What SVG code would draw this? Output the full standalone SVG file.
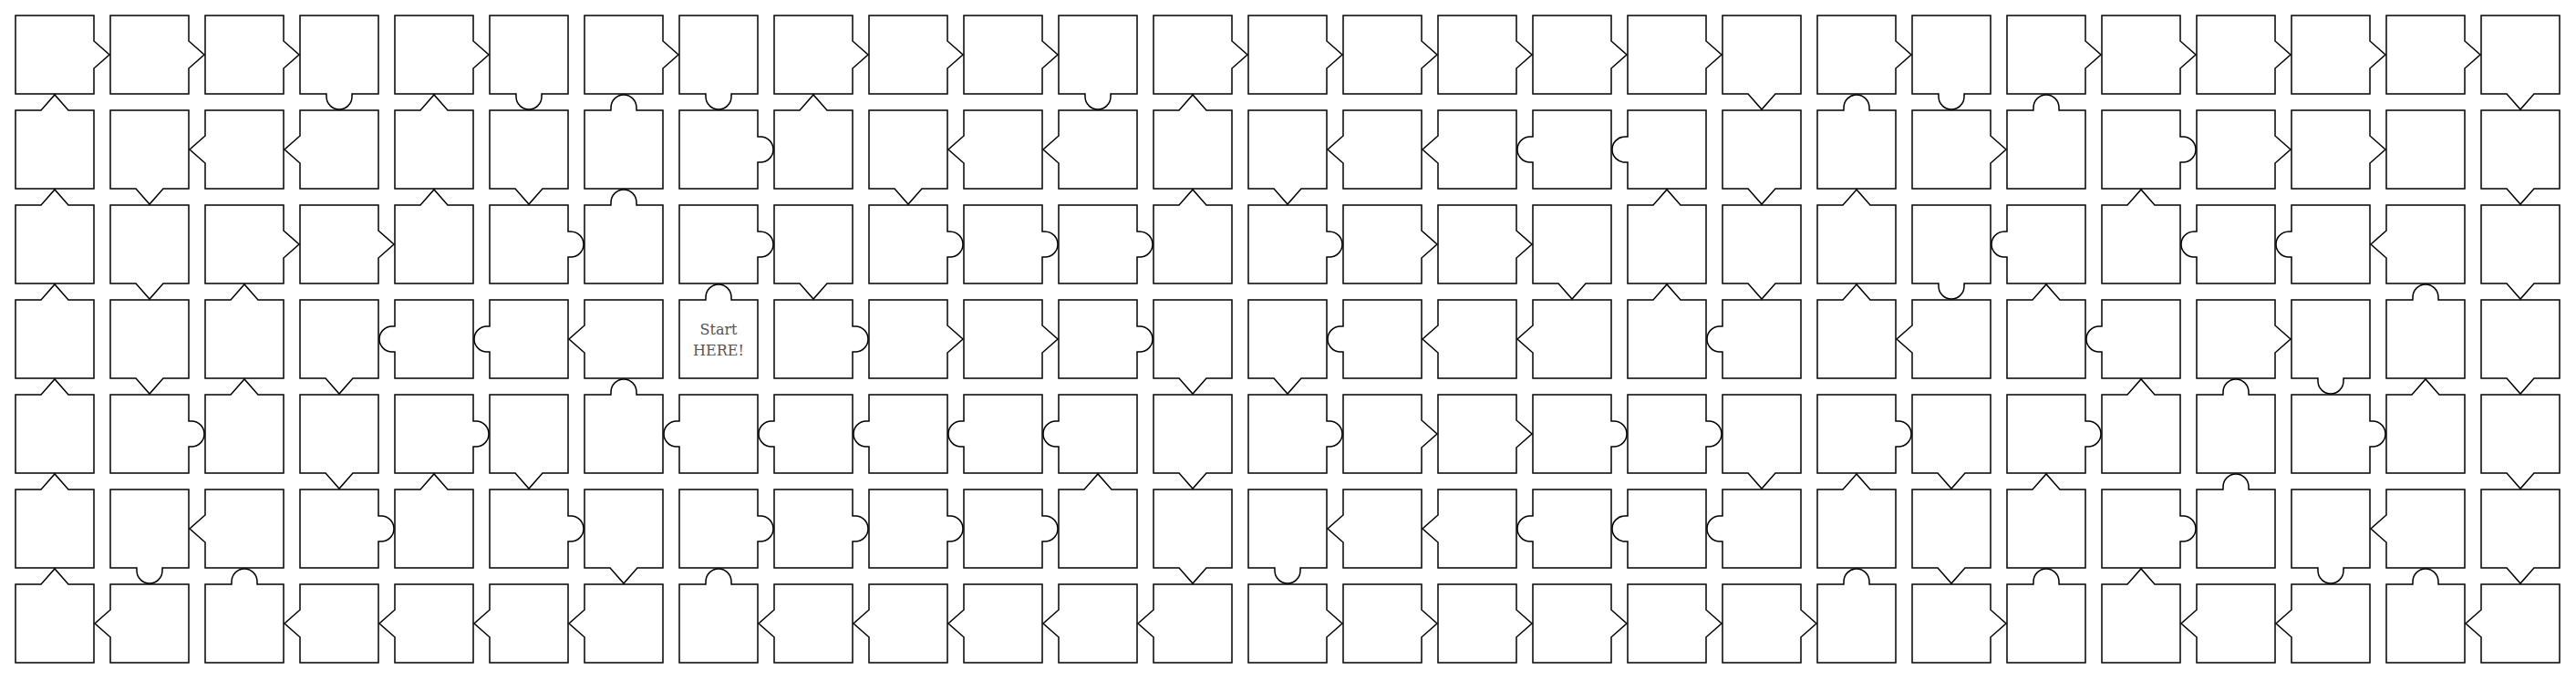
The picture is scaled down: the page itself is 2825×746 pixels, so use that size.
<svg xmlns="http://www.w3.org/2000/svg" xmlns:xlink="http://www.w3.org/1999/xlink" width="2825" height="746" viewBox="0 0 2825 746">
<style>
.t{fill:#fff;stroke:#000;stroke-width:1.5;stroke-linejoin:miter}
.lbl{font-family:"DejaVu Serif","Liberation Serif",serif;font-size:16px;fill:#555;text-anchor:middle}
</style>
<defs>
<path id="N" class="t" d="M0,0H86V86H0Z"/>
<path id="Ua" class="t" d="M0,0H28L43,-17L58,0H86V86H0Z"/>
<path id="Uc" class="t" d="M0,0H29V-3A14,14 0 0 1 57,-3V0H86V86H0Z"/>
<path id="Ra" class="t" d="M0,0H86V28L103,43L86,58V86H0Z"/>
<path id="Rc" class="t" d="M0,0H86V29H89A14,14 0 0 1 89,57H86V86H0Z"/>
<path id="Da" class="t" d="M0,0H86V86H58L43,103L28,86H0Z"/>
<path id="Dc" class="t" d="M0,0H86V86H57V89A14,14 0 0 1 29,89V86H0Z"/>
<path id="La" class="t" d="M0,0H86V86H0V58L-17,43L0,28Z"/>
<path id="Lc" class="t" d="M0,0H86V86H0V57H-3A14,14 0 0 1 -3,29H0Z"/>
</defs>
<rect width="2825" height="746" fill="#fff"/>
<g id="tiles">
<g id="r0c0"><use href="#Ra" x="17" y="17"/></g>
<g id="r0c1"><use href="#Ra" x="121" y="17"/></g>
<g id="r0c2"><use href="#Ra" x="225" y="17"/></g>
<g id="r0c3"><use href="#Dc" x="329" y="17"/></g>
<g id="r0c4"><use href="#Ra" x="433" y="17"/></g>
<g id="r0c5"><use href="#Dc" x="537" y="17"/></g>
<g id="r0c6"><use href="#Ra" x="641" y="17"/></g>
<g id="r0c7"><use href="#Dc" x="745" y="17"/></g>
<g id="r0c8"><use href="#Ra" x="849" y="17"/></g>
<g id="r0c9"><use href="#Ra" x="953" y="17"/></g>
<g id="r0c10"><use href="#Ra" x="1057" y="17"/></g>
<g id="r0c11"><use href="#Dc" x="1161" y="17"/></g>
<g id="r0c12"><use href="#Ra" x="1265" y="17"/></g>
<g id="r0c13"><use href="#Ra" x="1369" y="17"/></g>
<g id="r0c14"><use href="#Ra" x="1473" y="17"/></g>
<g id="r0c15"><use href="#Ra" x="1577" y="17"/></g>
<g id="r0c16"><use href="#Ra" x="1681" y="17"/></g>
<g id="r0c17"><use href="#Ra" x="1785" y="17"/></g>
<g id="r0c18"><use href="#Da" x="1889" y="17"/></g>
<g id="r0c19"><use href="#Ra" x="1993" y="17"/></g>
<g id="r0c20"><use href="#Dc" x="2097" y="17"/></g>
<g id="r0c21"><use href="#Ra" x="2201" y="17"/></g>
<g id="r0c22"><use href="#Ra" x="2305" y="17"/></g>
<g id="r0c23"><use href="#Ra" x="2409" y="17"/></g>
<g id="r0c24"><use href="#Ra" x="2513" y="17"/></g>
<g id="r0c25"><use href="#Ra" x="2617" y="17"/></g>
<g id="r0c26"><use href="#Da" x="2721" y="17"/></g>

<g id="r1c0"><use href="#Ua" x="17" y="121"/></g>
<g id="r1c1"><use href="#Da" x="121" y="121"/></g>
<g id="r1c2"><use href="#La" x="225" y="121"/></g>
<g id="r1c3"><use href="#La" x="329" y="121"/></g>
<g id="r1c4"><use href="#Ua" x="433" y="121"/></g>
<g id="r1c5"><use href="#Da" x="537" y="121"/></g>
<g id="r1c6"><use href="#Uc" x="641" y="121"/></g>
<g id="r1c7"><use href="#Rc" x="745" y="121"/></g>
<g id="r1c8"><use href="#Ua" x="849" y="121"/></g>
<g id="r1c9"><use href="#Da" x="953" y="121"/></g>
<g id="r1c10"><use href="#La" x="1057" y="121"/></g>
<g id="r1c11"><use href="#La" x="1161" y="121"/></g>
<g id="r1c12"><use href="#Ua" x="1265" y="121"/></g>
<g id="r1c13"><use href="#Da" x="1369" y="121"/></g>
<g id="r1c14"><use href="#La" x="1473" y="121"/></g>
<g id="r1c15"><use href="#La" x="1577" y="121"/></g>
<g id="r1c16"><use href="#Lc" x="1681" y="121"/></g>
<g id="r1c17"><use href="#Lc" x="1785" y="121"/></g>
<g id="r1c18"><use href="#Da" x="1889" y="121"/></g>
<g id="r1c19"><use href="#Uc" x="1993" y="121"/></g>
<g id="r1c20"><use href="#Ra" x="2097" y="121"/></g>
<g id="r1c21"><use href="#Uc" x="2201" y="121"/></g>
<g id="r1c22"><use href="#Rc" x="2305" y="121"/></g>
<g id="r1c23"><use href="#Ra" x="2409" y="121"/></g>
<g id="r1c24"><use href="#Ra" x="2513" y="121"/></g>
<g id="r1c25"><use href="#N" x="2617" y="121"/></g>
<g id="r1c26"><use href="#Da" x="2721" y="121"/></g>

<g id="r2c0"><use href="#Ua" x="17" y="225"/></g>
<g id="r2c1"><use href="#Da" x="121" y="225"/></g>
<g id="r2c2"><use href="#Ra" x="225" y="225"/></g>
<g id="r2c3"><use href="#Ra" x="329" y="225"/></g>
<g id="r2c4"><use href="#Ua" x="433" y="225"/></g>
<g id="r2c5"><use href="#Rc" x="537" y="225"/></g>
<g id="r2c6"><use href="#Uc" x="641" y="225"/></g>
<g id="r2c7"><use href="#Rc" x="745" y="225"/></g>
<g id="r2c8"><use href="#Da" x="849" y="225"/></g>
<g id="r2c9"><use href="#Rc" x="953" y="225"/></g>
<g id="r2c10"><use href="#Rc" x="1057" y="225"/></g>
<g id="r2c11"><use href="#Rc" x="1161" y="225"/></g>
<g id="r2c12"><use href="#Ua" x="1265" y="225"/></g>
<g id="r2c13"><use href="#Rc" x="1369" y="225"/></g>
<g id="r2c14"><use href="#Ra" x="1473" y="225"/></g>
<g id="r2c15"><use href="#Ra" x="1577" y="225"/></g>
<g id="r2c16"><use href="#Da" x="1681" y="225"/></g>
<g id="r2c17"><use href="#Ua" x="1785" y="225"/></g>
<g id="r2c18"><use href="#Da" x="1889" y="225"/></g>
<g id="r2c19"><use href="#Ua" x="1993" y="225"/></g>
<g id="r2c20"><use href="#Dc" x="2097" y="225"/></g>
<g id="r2c21"><use href="#Lc" x="2201" y="225"/></g>
<g id="r2c22"><use href="#Ua" x="2305" y="225"/></g>
<g id="r2c23"><use href="#Lc" x="2409" y="225"/></g>
<g id="r2c24"><use href="#Lc" x="2513" y="225"/></g>
<g id="r2c25"><use href="#La" x="2617" y="225"/></g>
<g id="r2c26"><use href="#Da" x="2721" y="225"/></g>

<g id="r3c0"><use href="#Ua" x="17" y="329"/></g>
<g id="r3c1"><use href="#Da" x="121" y="329"/></g>
<g id="r3c2"><use href="#Ua" x="225" y="329"/></g>
<g id="r3c3"><use href="#Da" x="329" y="329"/></g>
<g id="r3c4"><use href="#Lc" x="433" y="329"/></g>
<g id="r3c5"><use href="#Lc" x="537" y="329"/></g>
<g id="r3c6"><use href="#La" x="641" y="329"/></g>
<g id="r3c7"><use href="#Uc" x="745" y="329"/><text class="lbl" x="788" y="367">Start</text><text class="lbl" x="788" y="390">HERE!</text></g>
<g id="r3c8"><use href="#Rc" x="849" y="329"/></g>
<g id="r3c9"><use href="#Ra" x="953" y="329"/></g>
<g id="r3c10"><use href="#Ra" x="1057" y="329"/></g>
<g id="r3c11"><use href="#Rc" x="1161" y="329"/></g>
<g id="r3c12"><use href="#Da" x="1265" y="329"/></g>
<g id="r3c13"><use href="#Da" x="1369" y="329"/></g>
<g id="r3c14"><use href="#Lc" x="1473" y="329"/></g>
<g id="r3c15"><use href="#La" x="1577" y="329"/></g>
<g id="r3c16"><use href="#La" x="1681" y="329"/></g>
<g id="r3c17"><use href="#Ua" x="1785" y="329"/></g>
<g id="r3c18"><use href="#Lc" x="1889" y="329"/></g>
<g id="r3c19"><use href="#Ua" x="1993" y="329"/></g>
<g id="r3c20"><use href="#La" x="2097" y="329"/></g>
<g id="r3c21"><use href="#Ua" x="2201" y="329"/></g>
<g id="r3c22"><use href="#Lc" x="2305" y="329"/></g>
<g id="r3c23"><use href="#Ra" x="2409" y="329"/></g>
<g id="r3c24"><use href="#Dc" x="2513" y="329"/></g>
<g id="r3c25"><use href="#Uc" x="2617" y="329"/></g>
<g id="r3c26"><use href="#Da" x="2721" y="329"/></g>

<g id="r4c0"><use href="#Ua" x="17" y="433"/></g>
<g id="r4c1"><use href="#Rc" x="121" y="433"/></g>
<g id="r4c2"><use href="#Ua" x="225" y="433"/></g>
<g id="r4c3"><use href="#Da" x="329" y="433"/></g>
<g id="r4c4"><use href="#Rc" x="433" y="433"/></g>
<g id="r4c5"><use href="#Da" x="537" y="433"/></g>
<g id="r4c6"><use href="#Uc" x="641" y="433"/></g>
<g id="r4c7"><use href="#Lc" x="745" y="433"/></g>
<g id="r4c8"><use href="#Lc" x="849" y="433"/></g>
<g id="r4c9"><use href="#Lc" x="953" y="433"/></g>
<g id="r4c10"><use href="#Lc" x="1057" y="433"/></g>
<g id="r4c11"><use href="#Lc" x="1161" y="433"/></g>
<g id="r4c12"><use href="#Da" x="1265" y="433"/></g>
<g id="r4c13"><use href="#Rc" x="1369" y="433"/></g>
<g id="r4c14"><use href="#Ra" x="1473" y="433"/></g>
<g id="r4c15"><use href="#Ra" x="1577" y="433"/></g>
<g id="r4c16"><use href="#Rc" x="1681" y="433"/></g>
<g id="r4c17"><use href="#Rc" x="1785" y="433"/></g>
<g id="r4c18"><use href="#Da" x="1889" y="433"/></g>
<g id="r4c19"><use href="#Rc" x="1993" y="433"/></g>
<g id="r4c20"><use href="#Da" x="2097" y="433"/></g>
<g id="r4c21"><use href="#Rc" x="2201" y="433"/></g>
<g id="r4c22"><use href="#Ua" x="2305" y="433"/></g>
<g id="r4c23"><use href="#Uc" x="2409" y="433"/></g>
<g id="r4c24"><use href="#Rc" x="2513" y="433"/></g>
<g id="r4c25"><use href="#Ua" x="2617" y="433"/></g>
<g id="r4c26"><use href="#Da" x="2721" y="433"/></g>

<g id="r5c0"><use href="#Ua" x="17" y="537"/></g>
<g id="r5c1"><use href="#Dc" x="121" y="537"/></g>
<g id="r5c2"><use href="#La" x="225" y="537"/></g>
<g id="r5c3"><use href="#Rc" x="329" y="537"/></g>
<g id="r5c4"><use href="#Ua" x="433" y="537"/></g>
<g id="r5c5"><use href="#Rc" x="537" y="537"/></g>
<g id="r5c6"><use href="#Da" x="641" y="537"/></g>
<g id="r5c7"><use href="#Rc" x="745" y="537"/></g>
<g id="r5c8"><use href="#Rc" x="849" y="537"/></g>
<g id="r5c9"><use href="#Rc" x="953" y="537"/></g>
<g id="r5c10"><use href="#Rc" x="1057" y="537"/></g>
<g id="r5c11"><use href="#Ua" x="1161" y="537"/></g>
<g id="r5c12"><use href="#Da" x="1265" y="537"/></g>
<g id="r5c13"><use href="#Dc" x="1369" y="537"/></g>
<g id="r5c14"><use href="#La" x="1473" y="537"/></g>
<g id="r5c15"><use href="#La" x="1577" y="537"/></g>
<g id="r5c16"><use href="#Lc" x="1681" y="537"/></g>
<g id="r5c17"><use href="#Lc" x="1785" y="537"/></g>
<g id="r5c18"><use href="#Lc" x="1889" y="537"/></g>
<g id="r5c19"><use href="#Ua" x="1993" y="537"/></g>
<g id="r5c20"><use href="#Da" x="2097" y="537"/></g>
<g id="r5c21"><use href="#Ua" x="2201" y="537"/></g>
<g id="r5c22"><use href="#Rc" x="2305" y="537"/></g>
<g id="r5c23"><use href="#Uc" x="2409" y="537"/></g>
<g id="r5c24"><use href="#Dc" x="2513" y="537"/></g>
<g id="r5c25"><use href="#La" x="2617" y="537"/></g>
<g id="r5c26"><use href="#Da" x="2721" y="537"/></g>

<g id="r6c0"><use href="#Ua" x="17" y="641"/></g>
<g id="r6c1"><use href="#La" x="121" y="641"/></g>
<g id="r6c2"><use href="#Uc" x="225" y="641"/></g>
<g id="r6c3"><use href="#La" x="329" y="641"/></g>
<g id="r6c4"><use href="#La" x="433" y="641"/></g>
<g id="r6c5"><use href="#La" x="537" y="641"/></g>
<g id="r6c6"><use href="#La" x="641" y="641"/></g>
<g id="r6c7"><use href="#Uc" x="745" y="641"/></g>
<g id="r6c8"><use href="#La" x="849" y="641"/></g>
<g id="r6c9"><use href="#La" x="953" y="641"/></g>
<g id="r6c10"><use href="#La" x="1057" y="641"/></g>
<g id="r6c11"><use href="#La" x="1161" y="641"/></g>
<g id="r6c12"><use href="#La" x="1265" y="641"/></g>
<g id="r6c13"><use href="#Ra" x="1369" y="641"/></g>
<g id="r6c14"><use href="#Ra" x="1473" y="641"/></g>
<g id="r6c15"><use href="#Ra" x="1577" y="641"/></g>
<g id="r6c16"><use href="#Ra" x="1681" y="641"/></g>
<g id="r6c17"><use href="#Ra" x="1785" y="641"/></g>
<g id="r6c18"><use href="#Ra" x="1889" y="641"/></g>
<g id="r6c19"><use href="#Uc" x="1993" y="641"/></g>
<g id="r6c20"><use href="#Ra" x="2097" y="641"/></g>
<g id="r6c21"><use href="#Uc" x="2201" y="641"/></g>
<g id="r6c22"><use href="#Ua" x="2305" y="641"/></g>
<g id="r6c23"><use href="#La" x="2409" y="641"/></g>
<g id="r6c24"><use href="#La" x="2513" y="641"/></g>
<g id="r6c25"><use href="#Uc" x="2617" y="641"/></g>
<g id="r6c26"><use href="#La" x="2721" y="641"/></g>
</g>
</svg>
